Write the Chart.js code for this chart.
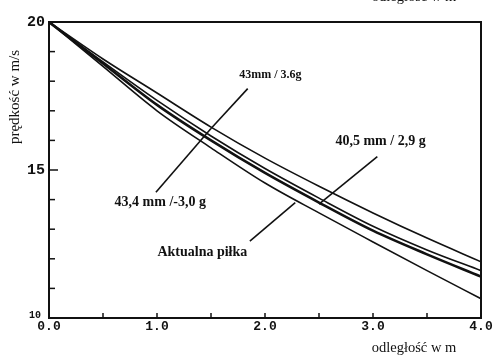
<!DOCTYPE html>
<html>
<head>
<meta charset="utf-8">
<script src="https://cdn.jsdelivr.net/npm/chart.js@4.4.1/dist/chart.umd.min.js"></script>
<style>
html, body { margin: 0; padding: 0; background: #fff; }
#wrap { position: relative; width: 494px; height: 355px; }
</style>
</head>
<body>
<div id="wrap"><canvas id="chart" width="494" height="355"></canvas></div>
<script>
// odległość w m
const distances = [0, 0.5, 1, 1.5, 2, 2.5, 3, 3.5, 4];
// prędkość w m/s
const speed43mm = [20, 18.75, 17.6, 16.45, 15.4, 14.45, 13.55, 12.7, 11.9];
const speed405mm = [20, 18.65, 17.35, 16.15, 15.05, 14.05, 13.1, 12.3, 11.6];
const speed434mm = [20, 18.6, 17.2, 16.0, 14.9, 13.9, 12.95, 12.15, 11.4];
const speedAktualna = [20, 18.5, 17.0, 15.75, 14.56, 13.55, 12.57, 11.6, 10.65];

// etykiety osi
const xTickLabels = ['0.0', '1.0', '2.0', '3.0', '4.0'];
const yTickLabels = ['10', '15', '20'];

const toPoints = (arr) => arr.map((v, i) => ({ x: distances[i], y: v }));

// podpisy z liniami wskazującymi (w jednostkach danych)
const callouts = [
    { text: '43mm / 3.6g', size: 12, tx: 2.05, ty: 18.2, from: [1.84, 17.75], to: [1.5, 16.4] },
    { text: '43,4 mm /-3,0 g', size: 14, tx: 1.03, ty: 13.9, from: [0.99, 14.25], to: [1.5, 16.4] },
    { text: '40,5 mm / 2,9 g', size: 14, tx: 3.07, ty: 15.95, from: [3.04, 15.45], to: [2.5, 13.85] },
    { text: 'Aktualna piłka', size: 14, tx: 1.42, ty: 12.2, from: [1.86, 12.6], to: [2.28, 13.9] }
];

const frameAndText = {
    id: 'frameAndText',
    afterDatasetsDraw(chart) {
        const { ctx, chartArea: a, scales: { x, y } } = chart;
        ctx.save();
        ctx.strokeStyle = '#111';
        ctx.fillStyle = '#111';

        // ramka
        ctx.lineWidth = 2;
        ctx.strokeRect(a.left, a.top, a.right - a.left, a.bottom - a.top);

        // kreski na osiach (do wewnątrz)
        ctx.lineWidth = 1.5;
        y.ticks.forEach(t => {
            const py = y.getPixelForValue(t.value);
            const len = t.value === 15 ? 9 : 6;
            ctx.beginPath();
            ctx.moveTo(a.left, py);
            ctx.lineTo(a.left + len, py);
            ctx.stroke();
        });
        x.ticks.forEach(t => {
            const px = x.getPixelForValue(t.value);
            ctx.beginPath();
            ctx.moveTo(px, a.bottom);
            ctx.lineTo(px, a.bottom - 5);
            ctx.stroke();
        });

        // opisy osi X
        ctx.font = "bold 13px 'Liberation Mono'";
        ctx.textAlign = 'center';
        ctx.textBaseline = 'middle';
        xTickLabels.forEach(l => {
            ctx.fillText(l, x.getPixelForValue(parseFloat(l)), a.bottom + 9);
        });

        // opisy osi Y
        ctx.textAlign = 'right';
        yTickLabels.forEach(l => {
            const v = parseFloat(l);
            if (v === 10) {
                ctx.font = "bold 10px 'Liberation Mono'";
                ctx.fillText(l, a.left - 8, y.getPixelForValue(v) - 3);
            } else {
                ctx.font = "bold 15px 'Liberation Mono'";
                ctx.fillText(l, a.left - 4, y.getPixelForValue(v));
            }
        });

        // linie wskazujące
        ctx.lineWidth = 1.6;
        callouts.forEach(c => {
            ctx.beginPath();
            ctx.moveTo(x.getPixelForValue(c.from[0]), y.getPixelForValue(c.from[1]));
            ctx.lineTo(x.getPixelForValue(c.to[0]), y.getPixelForValue(c.to[1]));
            ctx.stroke();
        });

        // podpisy krzywych
        ctx.textAlign = 'center';
        ctx.textBaseline = 'middle';
        callouts.forEach(c => {
            ctx.font = 'bold ' + c.size + "px 'Liberation Serif'";
            ctx.fillText(c.text, x.getPixelForValue(c.tx), y.getPixelForValue(c.ty));
        });

        // tytuły osi
        ctx.font = "14.5px 'Liberation Serif'";
        ctx.textAlign = 'center';
        ctx.fillText('odległość w m', 414, 348);
        ctx.textBaseline = 'alphabetic';
        ctx.fillText('odległość w m', 414, 1);

        ctx.font = "15px 'Liberation Serif'";
        ctx.translate(15, 97);
        ctx.rotate(-Math.PI / 2);
        ctx.textBaseline = 'middle';
        ctx.fillText('prędkość w m/s', 0, 0);

        ctx.restore();
    }
};

const lineStyle = (w) => ({
    borderColor: '#111',
    borderWidth: w,
    pointRadius: 0,
    fill: false,
    cubicInterpolationMode: 'monotone'
});

new Chart(document.getElementById('chart'), {
    type: 'line',
    data: {
        datasets: [
            { label: '43mm / 3.6g', data: toPoints(speed43mm), ...lineStyle(1.6) },
            { label: '40,5 mm / 2,9 g', data: toPoints(speed405mm), ...lineStyle(1.6) },
            { label: '43,4 mm / 3,0 g', data: toPoints(speed434mm), ...lineStyle(2.6) },
            { label: 'Aktualna piłka', data: toPoints(speedAktualna), ...lineStyle(1.6) }
        ]
    },
    options: {
        responsive: false,
        animation: false,
        events: [],
        layout: { padding: { left: 49, right: 13, top: 22, bottom: 37 } },
        plugins: { legend: { display: false }, tooltip: { enabled: false } },
        scales: {
            x: {
                type: 'linear',
                display: false,
                min: 0,
                max: 4,
                ticks: { stepSize: 0.5 }
            },
            y: {
                display: false,
                min: 10,
                max: 20,
                ticks: { stepSize: 1 }
            }
        }
    },
    plugins: [frameAndText]
});
</script>
</body>
</html>
